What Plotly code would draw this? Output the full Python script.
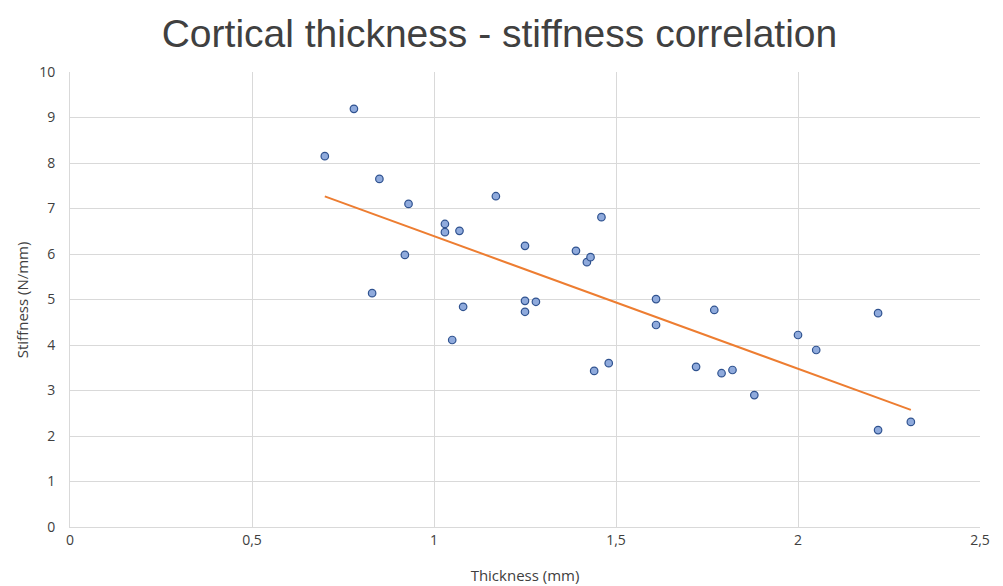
import numpy as np
import plotly.graph_objects as go

thickness = [0.70, 0.78, 0.85, 0.93, 0.92, 0.83, 1.03, 1.03, 1.07, 1.17, 1.08, 1.05,
             1.25, 1.25, 1.25, 1.28, 1.39, 1.42, 1.43, 1.46, 1.44, 1.48, 1.61, 1.61,
             1.77, 1.72, 1.79, 1.82, 1.88, 2.00, 2.05, 2.22, 2.22, 2.31]
stiffness = [8.15, 9.19, 7.65, 7.10, 5.98, 5.14, 6.66, 6.48, 6.51, 7.27, 4.84, 4.11,
             6.18, 4.97, 4.73, 4.95, 6.07, 5.82, 5.93, 6.81, 3.43, 3.60, 5.01, 4.44,
             4.77, 3.52, 3.38, 3.45, 2.90, 4.22, 3.89, 4.70, 2.13, 2.31]

x = np.array(thickness)
y = np.array(stiffness)
slope, intercept = np.polyfit(x, y, 1)
trend_x = [x.min(), x.max()]
trend_y = [slope * v + intercept for v in trend_x]

fig = go.Figure()
fig.add_trace(go.Scatter(x=trend_x, y=trend_y, mode="lines",
                         line=dict(color="#ED7D31", width=2), showlegend=False,
                         hoverinfo="skip"))
fig.add_trace(go.Scatter(x=thickness, y=stiffness, mode="markers",
                         marker=dict(size=7.5, color="#8FAADC",
                                     line=dict(color="#2F528F", width=1.2)),
                         showlegend=False))

fig.update_layout(
    width=1003, height=586,
    margin=dict(l=62, r=31, t=64, b=67),
    paper_bgcolor="white", plot_bgcolor="white",
    separators=", ",
    title=dict(text="Cortical thickness - stiffness correlation",
               font=dict(family="Liberation Sans", size=39, color="#404040"),
               x=0.49, xanchor="center", y=0.957, yanchor="middle"),
    xaxis=dict(range=[0, 2.5], dtick=0.5, tick0=0, showgrid=True, gridcolor="#D9D9D9",
               gridwidth=1, zeroline=False, showline=True, linecolor="#D9D9D9",
               ticks="", tickfont=dict(family="Open Sans", size=14, color="#404040"),
               title=dict(text="Thickness (mm)", standoff=22,
                          font=dict(family="Open Sans", size=15, color="#404040")),
               mirror=False),
    yaxis=dict(range=[0, 10], dtick=1, showgrid=True, gridcolor="#D9D9D9",
               gridwidth=1, zeroline=False, showline=True, linecolor="#D9D9D9",
               ticks="", tickfont=dict(family="Open Sans", size=14, color="#404040"),
               ticksuffix="   "),
    annotations=[dict(text="Stiffness (N/mm)", textangle=-90, xref="paper", yref="paper",
                      x=-0.053, y=0.5, xanchor="center", yanchor="middle", showarrow=False,
                      font=dict(family="Open Sans", size=15, color="#404040"))],
)

fig.write_html("out.html")
